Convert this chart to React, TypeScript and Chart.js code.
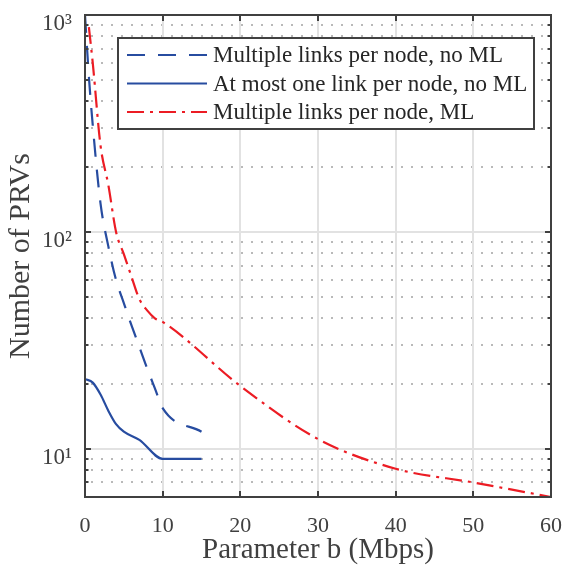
import React, { useEffect, useRef } from "react";
import { Chart, registerables } from "chart.js";

Chart.register(...registerables);

// ---- data ----
const xMultiNoML = [0, 0.5, 1, 2, 3, 4, 5, 6, 7, 8, 9, 10, 15];
const yMultiNoML = [1000, 520, 310, 135, 86, 60, 47, 37, 29.5, 23.5, 19, 15.4, 12];

const xSingleNoML = [0, 1, 2, 3, 4, 5, 7, 10, 15];
const ySingleNoML = [21, 20.2, 17.8, 15, 13, 12, 11, 9, 9];

const xMultiML = [0.5, 1, 2, 3, 4, 5, 6, 7, 8, 9, 10, 20, 30, 40, 50, 60];
const yMultiML = [880, 600, 250, 165, 100, 79, 62, 49, 43.5, 40, 38.5, 19.5, 11.1, 8.1, 7.0, 6.0];

const seriesLabels = [
  "Multiple links per node, no ML",
  "At most one link per node, no ML",
  "Multiple links per node, ML",
];

const xTicks = [0, 10, 20, 30, 40, 50, 60];
const yMajorTicks = [10, 100, 1000];
const yMinorTicks = [7, 8, 9, 20, 30, 40, 50, 60, 70, 80, 90, 200, 300, 400, 500, 600, 700, 800, 900];
const supDigits: Record<string, string> = { "1": "\u00b9", "2": "\u00b2", "3": "\u00b3" };

const BLUE = "#274ca0";
const RED = "#ec1c24";
const AXIS = "#404040";
const FONT = "'Liberation Serif', 'Times New Roman', serif";

const toPoints = (xs: number[], ys: number[]) => xs.map((x, i) => ({ x, y: ys[i] }));

const matlabPlugin = {
  id: "matlabLook",
  beforeDatasetsDraw(chart: any) {
    const { ctx, chartArea, scales } = chart;
    const { left, right, top, bottom } = chartArea;
    const xs = scales.x;
    const ys = scales.y;
    ctx.save();
    // minor dotted grid (y)
    ctx.strokeStyle = "#b9b9b9";
    ctx.lineWidth = 2;
    ctx.setLineDash([2, 8]);
    for (const v of yMinorTicks) {
      const py = Math.round(ys.getPixelForValue(v));
      if (py <= top + 1 || py >= bottom - 1) continue;
      ctx.beginPath();
      ctx.moveTo(left + 6, py);
      ctx.lineTo(right, py);
      ctx.stroke();
    }
    // major grid
    ctx.setLineDash([]);
    ctx.strokeStyle = "#e2e2e2";
    ctx.lineWidth = 2;
    for (const v of xTicks) {
      const px = Math.round(xs.getPixelForValue(v));
      if (px <= left + 1 || px >= right - 1) continue;
      ctx.beginPath();
      ctx.moveTo(px, top);
      ctx.lineTo(px, bottom);
      ctx.stroke();
    }
    for (const v of yMajorTicks) {
      const py = Math.round(ys.getPixelForValue(v));
      if (py <= top + 1 || py >= bottom - 1) continue;
      ctx.beginPath();
      ctx.moveTo(left, py);
      ctx.lineTo(right, py);
      ctx.stroke();
    }
    ctx.restore();
  },
  afterDatasetsDraw(chart: any) {
    const { ctx, chartArea, scales } = chart;
    const { left, right, top, bottom } = chartArea;
    const xs = scales.x;
    const ys = scales.y;
    ctx.save();
    ctx.setLineDash([]);
    ctx.strokeStyle = AXIS;
    ctx.lineWidth = 2;
    // ticks
    ctx.beginPath();
    for (const v of xTicks) {
      const px = Math.round(xs.getPixelForValue(v));
      ctx.moveTo(px, bottom);
      ctx.lineTo(px, bottom - 6);
      ctx.moveTo(px, top);
      ctx.lineTo(px, top + 6);
    }
    for (const v of yMajorTicks) {
      const py = Math.round(ys.getPixelForValue(v));
      ctx.moveTo(left, py);
      ctx.lineTo(left + 6, py);
      ctx.moveTo(right, py);
      ctx.lineTo(right - 6, py);
    }
    for (const v of yMinorTicks) {
      const py = Math.round(ys.getPixelForValue(v));
      if (py < top || py > bottom) continue;
      ctx.moveTo(left, py);
      ctx.lineTo(left + 3.5, py);
      ctx.moveTo(right, py);
      ctx.lineTo(right - 3.5, py);
    }
    ctx.stroke();
    // frame
    ctx.strokeRect(left, top, right - left, bottom - top);

    // legend
    const bx = 118, by = 38, bw = 416, bh = 91;
    ctx.fillStyle = "#ffffff";
    ctx.fillRect(bx, by, bw, bh);
    ctx.strokeStyle = AXIS;
    ctx.lineWidth = 2;
    ctx.strokeRect(bx, by, bw, bh);
    const rows = [55, 83.5, 112];
    chart.data.datasets.forEach((ds: any, i: number) => {
      const yy = rows[i];
      ctx.save();
      ctx.strokeStyle = ds.borderColor;
      ctx.lineWidth = ds.borderWidth;
      ctx.setLineDash(ds.borderDash || []);
      ctx.beginPath();
      ctx.moveTo(127, yy);
      ctx.lineTo(207, yy);
      ctx.stroke();
      ctx.restore();
      ctx.fillStyle = "#262626";
      ctx.font = `23px ${FONT}`;
      ctx.textBaseline = "middle";
      ctx.textAlign = "left";
      ctx.fillText(ds.label, 213, yy + 1);
    });
    ctx.restore();
  },
};

export default function App() {
  const canvasRef = useRef<HTMLCanvasElement | null>(null);

  useEffect(() => {
    if (!canvasRef.current) return;
    const chart = new Chart(canvasRef.current, {
      type: "line",
      data: {
        datasets: [
          {
            label: seriesLabels[0],
            data: toPoints(xMultiNoML, yMultiNoML),
            borderColor: BLUE,
            borderWidth: 2.2,
            borderDash: [18, 13],
            pointRadius: 0,
            fill: false,
            cubicInterpolationMode: "monotone",
          },
          {
            label: seriesLabels[1],
            data: toPoints(xSingleNoML, ySingleNoML),
            borderColor: BLUE,
            borderWidth: 2.2,
            borderDash: [],
            pointRadius: 0,
            fill: false,
            cubicInterpolationMode: "monotone",
          },
          {
            label: seriesLabels[2],
            data: toPoints(xMultiML, yMultiML),
            borderColor: RED,
            borderWidth: 2.2,
            borderDash: [17, 6, 3, 6],
            pointRadius: 0,
            fill: false,
            cubicInterpolationMode: "monotone",
          },
        ],
      },
      options: {
        responsive: true,
        maintainAspectRatio: false,
        animation: false,
        layout: { padding: { top: 15, right: 15, left: 0, bottom: 0 } },
        plugins: {
          legend: { display: false },
          tooltip: { enabled: false },
        },
        scales: {
          x: {
            type: "linear",
            min: 0,
            max: 60,
            grid: { display: false, drawTicks: false },
            border: { display: false },
            afterBuildTicks: (scale: any) => {
              scale.ticks = xTicks.map((v) => ({ value: v }));
            },
            afterFit: (scale: any) => {
              scale.height = 72;
              scale.paddingLeft = 0;
              scale.paddingRight = 0;
              scale.paddingTop = 0;
              scale.paddingBottom = 0;
            },
            ticks: {
              color: AXIS,
              font: { family: FONT, size: 22 },
              padding: 16,
              maxRotation: 0,
              callback: (v: any) => String(v),
            },
            title: {
              display: true,
              text: "Parameter b (Mbps)",
              color: AXIS,
              font: { family: FONT, size: 29 },
              padding: { top: 0, bottom: 1 },
            },
          },
          y: {
            type: "logarithmic",
            min: 6,
            max: 1000,
            grid: { display: false, drawTicks: false },
            border: { display: false },
            afterBuildTicks: (scale: any) => {
              scale.ticks = yMajorTicks.map((v) => ({ value: v }));
            },
            afterFit: (scale: any) => {
              scale.width = 85;
              scale.paddingLeft = 0;
              scale.paddingRight = 0;
              scale.paddingTop = 0;
              scale.paddingBottom = 0;
            },
            ticks: {
              color: AXIS,
              font: { family: FONT, size: 23 },
              padding: 13,
              labelOffset: 9,
              callback: (v: any) => {
                const e = String(Math.round(Math.log10(Number(v))));
                return "10" + (supDigits[e] || e);
              },
            },
            title: {
              display: true,
              text: "Number of PRVs",
              color: AXIS,
              font: { family: FONT, size: 30 },
              padding: { top: 3, bottom: 0 },
            },
          },
        },
      },
      plugins: [matlabPlugin],
    } as any);
    return () => chart.destroy();
  }, []);

  return (
    <div style={{ position: "fixed", left: 0, top: 0, width: 566, height: 569, background: "#ffffff" }}>
      <canvas ref={canvasRef} />
    </div>
  );
}
